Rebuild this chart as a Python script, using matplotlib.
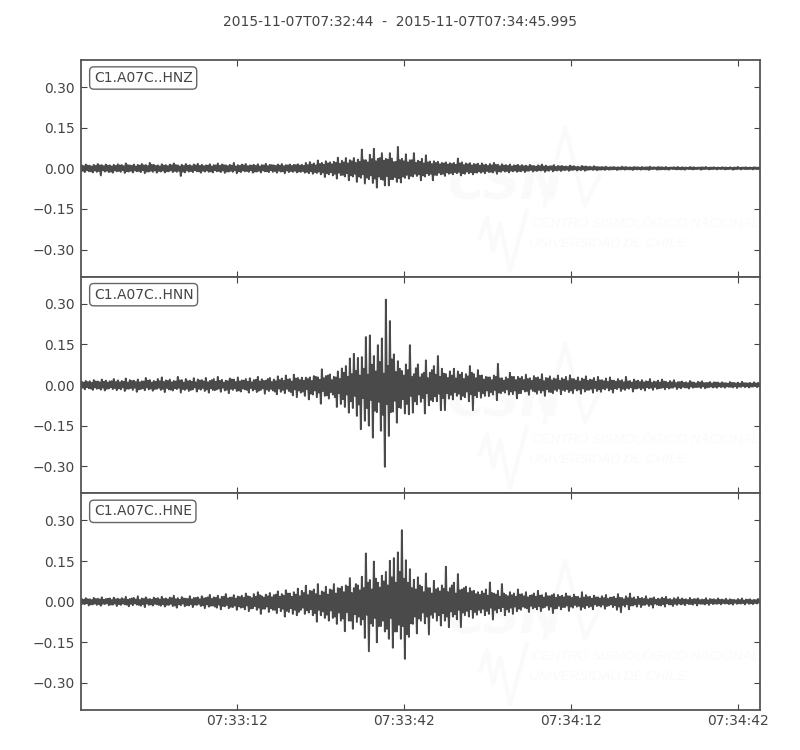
import numpy as np
import matplotlib
matplotlib.use("Agg")
import matplotlib.pyplot as plt

title = "2015-11-07T07:32:44  -  2015-11-07T07:34:45.995"
duration = 122.0
tick_secs = [28, 58, 88, 118]
tick_labels = ["07:33:12", "07:33:42", "07:34:12", "07:34:42"]
y_ticks = [-0.30, -0.15, 0.00, 0.15, 0.30]
channels = ["C1.A07C..HNZ", "C1.A07C..HNN", "C1.A07C..HNE"]

# peaks, in thousandths, one pair every ~0.72 s
hnz_up = [
    11, 14, 10, 13, 16, 12, 14, 11, 13, 15,
    12, 18, 11, 14, 13, 16, 12, 20, 13, 11,
    15, 12, 14, 18, 11, 13, 16, 12, 14, 17,
    13, 11, 15, 12, 18, 14, 11, 13, 20, 12,
    14, 16, 11, 13, 15, 12, 17, 13, 11, 14,
    16, 12, 14, 13, 15, 13, 20, 23, 18, 29,
    20, 26, 22, 24, 39, 28, 38, 30, 38, 32,
    69, 30, 50, 72, 35, 56, 35, 56, 23, 79,
    35, 52, 30, 56, 28, 35, 48, 25, 26, 24,
    20, 22, 19, 20, 36, 22, 18, 19, 16, 17,
    18, 14, 16, 20, 13, 15, 12, 14, 11, 13,
    12, 10, 13, 9, 11, 14, 10, 8, 12, 9,
    9, 7, 10, 8, 6, 9, 7, 6, 8, 5,
    5, 6, 4, 5, 4, 6, 5, 4, 5, 4,
    5, 4, 6, 4, 5, 4, 5, 3, 4, 5,
    4, 3, 5, 4, 3, 4, 5, 3, 4, 3,
    4, 3, 4, 3, 5, 3, 4, 3, 4, 3,
]
hnz_lo = [
    -12, -14, -11, -15, -13, -26, -12, -14, -16, -11,
    -13, -17, -12, -15, -11, -14, -18, -12, -13, -16,
    -12, -15, -11, -14, -13, -28, -15, -12, -14, -11,
    -16, -12, -13, -15, -11, -14, -17, -12, -13, -18,
    -14, -11, -13, -16, -12, -15, -11, -14, -13, -16,
    -12, -18, -14, -13, -15, -13, -16, -18, -20, -17,
    -22, -32, -22, -26, -38, -25, -30, -44, -30, -50,
    -35, -56, -40, -54, -71, -40, -63, -63, -40, -50,
    -52, -35, -38, -30, -28, -44, -30, -25, -44, -25,
    -22, -28, -20, -22, -18, -26, -20, -18, -22, -16,
    -16, -18, -14, -15, -20, -13, -12, -15, -11, -13,
    -11, -14, -9, -12, -10, -8, -13, -9, -11, -8,
    -10, -7, -9, -6, -8, -7, -9, -5, -6, -7,
    -5, -6, -5, -4, -6, -4, -5, -4, -6, -4,
    -5, -4, -6, -3, -5, -4, -4, -5, -3, -4,
    -4, -5, -3, -4, -3, -5, -3, -4, -3, -4,
    -3, -4, -3, -5, -3, -4, -3, -3, -4, -3,
]
hnz_fill_up = [
    8, 10, 7, 9, 11, 8, 10, 7, 9, 11,
    8, 12, 9, 7, 10, 11, 8, 13, 9, 7,
    10, 8, 11, 12, 7, 9, 10, 8, 11, 9,
    8, 10, 7, 11, 9, 12, 8, 10, 7, 9,
    11, 8, 10, 9, 7, 11, 8, 12, 9, 10,
    8, 11, 9, 12, 10, 9, 12, 14, 11, 16,
    13, 18, 15, 20, 16, 22, 18, 26, 20, 24,
    30, 22, 34, 26, 38, 28, 32, 36, 24, 30,
    26, 22, 30, 20, 24, 18, 22, 16, 20, 15,
    18, 14, 16, 13, 18, 12, 15, 11, 14, 10,
    12, 9, 11, 13, 8, 10, 9, 7, 10, 8,
    8, 7, 9, 6, 8, 7, 6, 8, 5, 7,
    6, 5, 7, 5, 4, 6, 5, 4, 5, 4,
    4, 3, 4, 3, 3, 4, 3, 3, 4, 3,
    3, 4, 3, 3, 4, 3, 2, 3, 3, 2,
    3, 2, 3, 2, 3, 3, 2, 3, 2, 2,
    3, 2, 2, 3, 2, 3, 2, 2, 3, 2,
]
hnz_fill_lo = [
    -9, -7, -11, -8, -10, -7, -9, -12, -8, -10,
    -7, -11, -9, -8, -10, -7, -12, -9, -8, -10,
    -8, -11, -7, -10, -9, -12, -8, -10, -7, -11,
    -9, -8, -11, -7, -10, -8, -12, -9, -7, -11,
    -8, -10, -7, -12, -9, -8, -11, -7, -10, -9,
    -11, -8, -10, -9, -12, -10, -13, -11, -14, -12,
    -15, -18, -14, -20, -16, -24, -18, -26, -20, -30,
    -22, -34, -26, -38, -30, -42, -28, -40, -32, -36,
    -30, -24, -28, -20, -22, -26, -18, -20, -24, -16,
    -20, -15, -17, -14, -13, -18, -12, -14, -15, -11,
    -12, -10, -13, -9, -11, -8, -10, -9, -8, -10,
    -7, -9, -6, -8, -7, -6, -8, -5, -7, -6,
    -6, -5, -6, -4, -5, -4, -6, -4, -4, -5,
    -4, -3, -4, -3, -4, -3, -3, -4, -3, -3,
    -3, -4, -3, -2, -4, -3, -3, -2, -3, -3,
    -3, -2, -3, -3, -2, -3, -2, -3, -2, -2,
    -2, -3, -2, -3, -2, -2, -3, -2, -2, -3,
]
hnn_up = [
    12, 15, 14, 18, 13, 20, 16, 14, 22, 17,
    15, 24, 18, 16, 20, 14, 26, 18, 15, 22,
    28, 17, 20, 15, 30, 18, 22, 16, 25, 20,
    18, 26, 15, 22, 30, 19, 16, 24, 20, 28,
    17, 22, 25, 18, 30, 21, 16, 26, 20, 32,
    24, 35, 22, 38, 26, 27, 27, 28, 33, 28,
    58, 33, 39, 30, 50, 61, 70, 98, 115, 100,
    103, 177, 183, 107, 147, 172, 315, 236, 113, 88,
    52, 76, 147, 40, 76, 40, 91, 45, 70, 107,
    60, 40, 50, 60, 50, 45, 40, 70, 40, 55,
    35, 30, 28, 35, 78, 25, 28, 45, 30, 30,
    30, 38, 25, 33, 28, 40, 26, 32, 24, 35,
    25, 30, 36, 22, 28, 24, 32, 20, 26, 30,
    18, 24, 28, 16, 22, 18, 30, 15, 20, 16,
    18, 14, 22, 13, 16, 20, 12, 15, 18, 11,
    13, 10, 15, 9, 12, 14, 8, 11, 10, 9,
    10, 7, 11, 8, 9, 12, 7, 8, 10, 8,
]
hnn_lo = [
    -13, -16, -12, -18, -14, -17, -20, -13, -15, -19,
    -16, -22, -14, -18, -25, -15, -19, -16, -21, -14,
    -18, -26, -16, -20, -15, -28, -18, -22, -16, -24,
    -17, -22, -28, -18, -16, -25, -20, -30, -18, -22,
    -24, -16, -28, -20, -26, -18, -32, -22, -20, -34,
    -25, -30, -22, -38, -45, -28, -40, -53, -35, -45,
    -69, -40, -50, -35, -81, -70, -81, -102, -85, -114,
    -163, -132, -150, -194, -100, -169, -302, -188, -98, -139,
    -85, -105, -108, -102, -71, -62, -105, -75, -60, -60,
    -93, -93, -50, -53, -40, -53, -45, -60, -93, -45,
    -47, -40, -41, -35, -56, -30, -28, -35, -34, -49,
    -30, -24, -36, -22, -32, -28, -40, -25, -30, -22,
    -34, -22, -26, -30, -20, -32, -24, -18, -28, -22,
    -25, -16, -20, -28, -15, -22, -18, -14, -24, -13,
    -16, -20, -12, -18, -14, -11, -16, -13, -10, -15,
    -12, -9, -13, -10, -8, -11, -12, -8, -9, -10,
    -8, -10, -7, -9, -11, -7, -8, -9, -6, -8,
]
hnn_fill_up = [
    9, 11, 8, 13, 10, 12, 9, 14, 11, 10,
    12, 9, 15, 11, 10, 13, 16, 9, 12, 14,
    11, 15, 10, 13, 17, 9, 14, 12, 10, 16,
    13, 10, 18, 12, 15, 9, 14, 20, 11, 13,
    16, 12, 10, 19, 13, 15, 22, 11, 14, 18,
    15, 20, 13, 24, 18, 16, 22, 15, 30, 19,
    25, 35, 18, 28, 22, 45, 30, 40, 52, 35,
    60, 38, 75, 50, 85, 42, 70, 95, 48, 60,
    35, 55, 30, 62, 28, 45, 25, 55, 38, 30,
    42, 26, 35, 24, 38, 22, 32, 45, 25, 34,
    20, 28, 18, 30, 24, 16, 22, 30, 18, 24,
    18, 22, 15, 26, 20, 14, 24, 17, 21, 15,
    20, 14, 22, 16, 13, 20, 15, 18, 12, 17,
    14, 11, 16, 12, 15, 10, 13, 9, 14, 11,
    10, 12, 8, 11, 9, 13, 8, 10, 7, 11,
    8, 7, 10, 6, 9, 7, 8, 6, 9, 6,
    7, 5, 8, 6, 5, 7, 6, 5, 6, 5,
]
hnn_fill_lo = [
    -10, -8, -13, -9, -12, -10, -14, -8, -11, -12,
    -9, -14, -11, -10, -16, -12, -9, -13, -15, -10,
    -14, -11, -17, -12, -10, -15, -13, -18, -9, -14,
    -11, -16, -12, -19, -13, -10, -17, -14, -12, -20,
    -13, -18, -11, -15, -21, -12, -16, -14, -24, -13,
    -18, -14, -26, -16, -20, -24, -15, -32, -20, -28,
    -22, -38, -26, -45, -30, -52, -35, -60, -40, -72,
    -48, -85, -55, -95, -62, -110, -70, -100, -58, -82,
    -52, -70, -40, -60, -35, -48, -30, -55, -42, -32,
    -48, -30, -36, -26, -32, -40, -24, -34, -38, -22,
    -30, -20, -26, -18, -28, -22, -16, -24, -20, -30,
    -16, -22, -14, -24, -18, -20, -15, -26, -17, -13,
    -18, -15, -20, -13, -16, -12, -18, -14, -11, -16,
    -13, -10, -15, -12, -9, -14, -11, -8, -13, -10,
    -11, -8, -10, -7, -12, -9, -8, -10, -6, -9,
    -7, -9, -6, -8, -7, -5, -9, -6, -7, -5,
    -6, -5, -7, -5, -6, -4, -5, -6, -4, -5,
]
hne_up = [
    10, 13, 9, 14, 11, 16, 10, 12, 15, 11,
    13, 18, 10, 14, 20, 12, 16, 10, 15, 13,
    18, 12, 15, 22, 13, 17, 11, 20, 14, 16,
    20, 14, 25, 16, 22, 18, 28, 15, 24, 19,
    22, 30, 18, 28, 35, 20, 26, 32, 24, 38,
    28, 42, 30, 35, 48, 40, 59, 40, 45, 65,
    38, 55, 45, 65, 50, 55, 60, 87, 50, 60,
    92, 178, 80, 148, 70, 96, 110, 151, 161, 182,
    264, 153, 120, 81, 90, 55, 104, 50, 77, 50,
    60, 129, 50, 70, 102, 45, 55, 50, 40, 35,
    38, 45, 71, 30, 40, 65, 25, 35, 30, 45,
    28, 35, 22, 30, 40, 24, 32, 20, 28, 25,
    22, 30, 20, 26, 18, 35, 24, 18, 22, 16,
    20, 25, 15, 18, 28, 14, 20, 30, 16, 18,
    14, 20, 12, 16, 11, 15, 18, 10, 13, 16,
    12, 9, 14, 10, 12, 8, 13, 10, 9, 12,
    8, 11, 9, 7, 10, 12, 8, 9, 7, 10,
]
hne_lo = [
    -11, -9, -14, -10, -12, -15, -9, -13, -11, -16,
    -12, -10, -17, -13, -11, -15, -20, -12, -14, -10,
    -15, -18, -12, -16, -22, -13, -17, -14, -20, -12,
    -16, -24, -18, -14, -22, -28, -17, -24, -20, -30,
    -22, -28, -35, -24, -30, -45, -26, -38, -30, -42,
    -35, -55, -38, -45, -50, -30, -45, -40, -50, -74,
    -50, -60, -70, -60, -82, -70, -109, -70, -100, -75,
    -85, -134, -183, -90, -150, -90, -110, -137, -170, -110,
    -137, -211, -130, -82, -117, -70, -80, -121, -60, -70,
    -88, -70, -94, -55, -65, -94, -50, -55, -60, -48,
    -40, -50, -45, -66, -40, -35, -50, -38, -45, -35,
    -30, -22, -38, -25, -28, -35, -20, -30, -42, -24,
    -28, -20, -34, -22, -18, -30, -24, -20, -28, -16,
    -18, -26, -14, -20, -30, -39, -18, -28, -14, -18,
    -20, -12, -16, -22, -11, -14, -18, -10, -16, -12,
    -10, -13, -9, -11, -14, -8, -10, -12, -9, -8,
    -10, -7, -9, -11, -8, -7, -10, -8, -9, -7,
]
hne_fill_up = [
    7, 9, 6, 10, 8, 7, 11, 6, 9, 8,
    9, 7, 12, 8, 6, 10, 9, 7, 11, 8,
    10, 8, 13, 9, 7, 12, 10, 8, 14, 9,
    12, 16, 10, 14, 9, 18, 12, 15, 11, 17,
    14, 20, 13, 18, 24, 15, 20, 16, 26, 18,
    22, 30, 18, 26, 20, 32, 24, 38, 28, 22,
    34, 26, 42, 30, 48, 35, 55, 32, 65, 42,
    50, 70, 45, 85, 52, 75, 60, 90, 70, 110,
    85, 70, 50, 45, 60, 35, 50, 30, 45, 38,
    48, 35, 60, 30, 42, 50, 32, 38, 28, 25,
    30, 22, 32, 26, 18, 30, 20, 24, 18, 26,
    20, 16, 24, 18, 22, 15, 20, 24, 14, 18,
    16, 20, 14, 18, 12, 15, 17, 11, 16, 12,
    13, 10, 15, 11, 14, 9, 13, 12, 8, 11,
    10, 8, 12, 7, 9, 11, 8, 6, 9, 7,
    8, 6, 7, 9, 6, 7, 5, 8, 6, 7,
    6, 5, 7, 5, 6, 4, 7, 5, 6, 5,
]
hne_fill_lo = [
    -8, -6, -10, -7, -9, -8, -6, -11, -7, -9,
    -7, -11, -8, -6, -12, -9, -7, -10, -8, -12,
    -9, -12, -8, -14, -10, -7, -13, -9, -11, -8,
    -13, -10, -15, -18, -11, -16, -12, -19, -14, -17,
    -20, -14, -25, -16, -22, -26, -18, -24, -30, -20,
    -26, -34, -24, -30, -38, -22, -32, -28, -42, -30,
    -36, -48, -32, -55, -40, -62, -38, -70, -46, -55,
    -65, -48, -80, -60, -90, -70, -100, -60, -110, -85,
    -90, -120, -80, -55, -62, -40, -55, -48, -38, -50,
    -42, -55, -36, -46, -30, -40, -34, -28, -38, -30,
    -26, -34, -22, -30, -24, -20, -28, -22, -18, -26,
    -18, -24, -15, -20, -16, -22, -14, -18, -25, -15,
    -20, -14, -18, -12, -15, -19, -13, -16, -10, -14,
    -11, -16, -10, -13, -18, -12, -9, -14, -10, -8,
    -12, -8, -10, -7, -13, -9, -6, -10, -8, -7,
    -8, -6, -9, -5, -7, -8, -6, -5, -7, -6,
    -5, -6, -7, -4, -6, -5, -4, -6, -5, -4,
]
traces = [
    (hnz_lo, hnz_up, hnz_fill_lo, hnz_fill_up),
    (hnn_lo, hnn_up, hnn_fill_lo, hnn_fill_up),
    (hne_lo, hne_up, hne_fill_lo, hne_fill_up),
]

ink = "#444444"
mark = "#fafafa"
wave = "#4a4a4a"

plt.rcParams["font.family"] = "DejaVu Sans"
plt.rcParams["font.size"] = 10

fig, axes = plt.subplots(3, 1, sharex=True, figsize=(8, 7.5), dpi=100)
fig.subplots_adjust(left=0.101, right=0.95, top=0.92, bottom=0.0533, hspace=0)
fig.text(0.5, 0.971, title, ha="center", va="center", color=ink, fontsize=10)

for ax, name, cols in zip(axes, channels, traces):
    # faint logo behind the trace
    ax.text(0.625, 0.42, "CSN", transform=ax.transAxes, ha="center", va="center",
            fontsize=37, fontweight="bold", style="italic", color=mark, zorder=0)
    ax.text(0.665, 0.245, "CENTRO SISMOLÓGICO NACIONAL", transform=ax.transAxes,
            va="center", fontsize=9.6, style="italic", color=mark, zorder=0,
            family="Liberation Sans")
    ax.text(0.66, 0.153, "UNIVERSIDAD DE CHILE", transform=ax.transAxes,
            va="center", fontsize=9.6, style="italic", color=mark, zorder=0,
            family="Liberation Sans")
    ax.plot([0.588, 0.598, 0.607, 0.617, 0.632, 0.657], [0.18, 0.273, 0.12, 0.245, 0.028, 0.306],
            transform=ax.transAxes, color=mark, lw=3, zorder=0)
    ax.plot([0.683, 0.713, 0.742, 0.764], [0.329, 0.69, 0.329, 0.468],
            transform=ax.transAxes, color=mark, lw=3, zorder=0)

    # one long zigzag: peak pair then the smaller swings that fill the band
    vals = np.column_stack(cols).ravel() / 1000.0
    t = np.linspace(0, duration, len(vals))
    ax.plot(t, vals, color=wave, lw=1.4, zorder=2)

    ax.set_xlim(0, duration)
    ax.set_ylim(-0.4, 0.4)
    ax.set_yticks(y_ticks)
    ax.set_yticklabels([f"{v:.2f}".replace("-", "\u2212") for v in y_ticks])
    ax.set_xticks(tick_secs)
    ax.tick_params(direction="in", top=True, right=True, length=4, width=0.8,
                   color=ink, labelcolor=ink, labelsize=10)
    ax.tick_params(axis="y", pad=4)
    ax.tick_params(axis="x", pad=3)
    for s in ax.spines.values():
        s.set_color("#555555")
        s.set_linewidth(1.3)
    ax.annotate(name, xy=(0, 1), xycoords="axes fraction", xytext=(13, -18),
                textcoords="offset pixels", color=ink, fontsize=10, va="center",
                bbox=dict(boxstyle="round,pad=0.3", fc="white", ec="#666666", lw=1.0), zorder=5)

axes[2].set_xticklabels(tick_labels)
fig.savefig("out.png", dpi=100)
